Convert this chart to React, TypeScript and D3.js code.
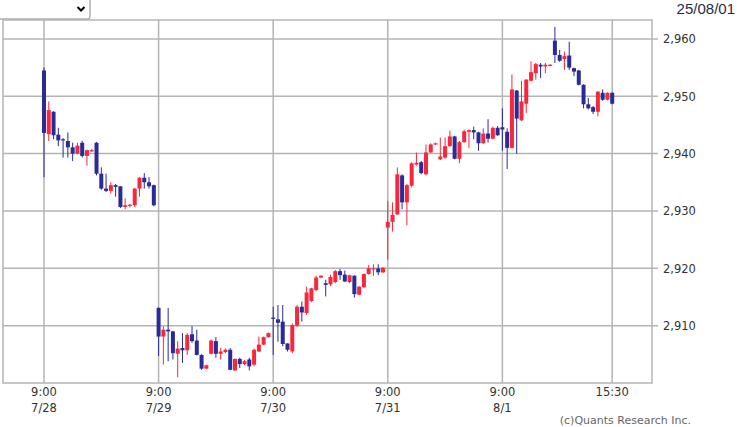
import React, { useEffect } from "react";
import * as d3 from "d3";

// one tuple per bar: [open, high, low, close]
type Bar = [number, number, number, number];

const days = ["7/28", "7/29", "7/30", "7/31", "8/1"];
const timeLabels = ["9:00", "9:00", "9:00", "9:00", "9:00", "15:30"];
const dateLabels = ["7/28", "7/29", "7/30", "7/31", "8/1", ""];
const yTicks = [2910, 2920, 2930, 2940, 2950, 2960];

const bars0728: Bar[] = [
  [2954.5, 2955.0, 2935.9, 2943.6], [2943.4, 2949.1, 2942.2, 2947.6], [2947.3, 2947.4, 2942.5, 2943.2],
  [2943.3, 2944.5, 2941.3, 2942.3], [2942.5, 2942.7, 2939.3, 2942.3], [2942.2, 2943.7, 2939.3, 2941.1],
  [2941.1, 2941.9, 2938.7, 2940.0], [2940.0, 2941.9, 2939.9, 2941.4], [2941.9, 2942.2, 2939.3, 2939.6],
  [2939.6, 2940.7, 2937.9, 2940.6], [2940.4, 2940.8, 2940.3, 2940.6], [2941.9, 2942.0, 2936.2, 2936.5],
  [2936.5, 2937.6, 2933.7, 2933.9], [2933.9, 2936.5, 2933.3, 2933.5], [2933.5, 2935.0, 2933.0, 2934.5],
  [2934.5, 2934.7, 2932.5, 2934.2], [2934.3, 2934.3, 2930.5, 2930.7], [2930.7, 2932.2, 2930.3, 2931.0],
  [2930.9, 2931.2, 2930.6, 2931.1], [2931.0, 2934.0, 2930.7, 2933.9], [2933.9, 2935.9, 2932.5, 2935.8],
  [2935.8, 2936.6, 2933.9, 2935.0], [2935.0, 2935.9, 2933.9, 2934.3], [2934.5, 2934.6, 2930.8, 2931.0],
];

const bars0729: Bar[] = [
  [2913.1, 2913.2, 2904.7, 2908.1], [2908.1, 2909.9, 2903.2, 2909.3], [2909.3, 2913.1, 2903.8, 2909.0],
  [2909.0, 2909.1, 2904.1, 2905.2], [2905.1, 2907.3, 2901.0, 2906.0], [2906.1, 2908.7, 2903.5, 2905.7],
  [2905.7, 2908.7, 2904.9, 2908.4], [2908.5, 2909.9, 2907.0, 2907.3], [2907.4, 2909.3, 2904.8, 2904.9],
  [2904.9, 2905.0, 2902.3, 2902.5], [2902.5, 2903.2, 2902.4, 2903.1], [2905.1, 2907.6, 2905.0, 2907.4],
  [2907.3, 2908.0, 2904.4, 2905.1], [2905.1, 2906.1, 2904.1, 2905.5], [2905.4, 2906.0, 2905.2, 2905.8],
  [2905.8, 2906.1, 2902.2, 2902.3], [2902.2, 2904.3, 2902.1, 2904.2], [2904.2, 2904.4, 2902.6, 2903.3],
  [2903.3, 2904.0, 2903.1, 2903.8], [2904.1, 2904.4, 2902.2, 2902.9], [2903.2, 2906.0, 2902.9, 2905.8],
  [2905.5, 2908.1, 2905.4, 2906.7], [2906.7, 2908.1, 2906.6, 2908.0], [2908.0, 2908.8, 2907.9, 2908.7],
];

const bars0730: Bar[] = [
  [2911.4, 2913.3, 2904.9, 2911.2], [2911.1, 2913.6, 2907.2, 2910.5], [2910.7, 2913.6, 2906.4, 2906.8],
  [2906.9, 2906.9, 2905.5, 2905.8], [2905.5, 2910.4, 2905.2, 2910.1], [2910.0, 2913.6, 2909.8, 2913.3],
  [2913.3, 2914.2, 2910.7, 2912.3], [2912.2, 2916.8, 2911.9, 2915.8], [2914.3, 2916.6, 2914.1, 2916.5],
  [2916.2, 2918.7, 2916.0, 2918.4], [2918.4, 2918.8, 2918.3, 2918.7], [2917.4, 2918.0, 2915.1, 2917.1],
  [2917.2, 2918.9, 2916.9, 2918.5], [2917.6, 2919.7, 2917.4, 2919.5], [2919.5, 2919.9, 2918.0, 2918.8],
  [2918.9, 2919.6, 2917.6, 2917.7], [2917.6, 2918.9, 2917.4, 2918.8], [2918.7, 2918.8, 2914.9, 2915.5],
  [2915.4, 2916.9, 2915.3, 2916.8], [2916.7, 2919.1, 2916.6, 2919.0], [2919.0, 2920.6, 2918.9, 2920.0],
  [2919.8, 2920.7, 2918.7, 2920.0], [2920.0, 2920.7, 2918.8, 2919.3], [2919.3, 2920.2, 2919.2, 2920.1],
];

const bars0731: Bar[] = [
  [2927.1, 2931.7, 2921.5, 2928.1], [2928.1, 2931.5, 2926.4, 2929.3], [2929.4, 2937.6, 2929.3, 2936.4],
  [2936.2, 2936.4, 2930.3, 2931.5], [2931.5, 2934.7, 2927.5, 2934.5], [2934.4, 2938.5, 2934.1, 2938.3],
  [2938.1, 2940.2, 2937.9, 2938.4], [2938.5, 2938.7, 2936.4, 2936.6], [2936.4, 2941.6, 2936.2, 2940.2],
  [2940.2, 2941.8, 2940.1, 2941.6], [2941.6, 2941.9, 2941.5, 2941.8], [2939.0, 2942.8, 2938.9, 2939.5],
  [2939.3, 2942.8, 2939.1, 2941.3], [2941.3, 2944.0, 2941.2, 2943.0], [2943.0, 2943.1, 2939.0, 2939.1],
  [2939.1, 2942.2, 2938.3, 2942.0], [2942.0, 2944.2, 2941.9, 2943.9], [2943.8, 2944.2, 2941.0, 2944.1],
  [2944.1, 2944.7, 2942.5, 2943.7], [2943.7, 2943.8, 2940.5, 2941.8], [2941.8, 2944.4, 2941.7, 2943.5],
  [2943.5, 2946.0, 2941.9, 2942.6], [2942.6, 2944.7, 2942.5, 2944.5], [2944.5, 2944.8, 2943.1, 2943.2],
];

const bars0801: Bar[] = [
  [2944.6, 2947.9, 2940.5, 2944.2], [2943.8, 2944.4, 2937.3, 2941.0], [2941.0, 2953.8, 2940.9, 2951.2],
  [2951.0, 2951.1, 2940.0, 2946.1], [2945.8, 2952.7, 2945.7, 2949.1], [2948.7, 2953.0, 2947.1, 2952.9],
  [2952.7, 2956.1, 2952.6, 2954.2], [2954.0, 2955.8, 2952.9, 2955.6], [2955.5, 2955.8, 2953.2, 2955.2],
  [2955.2, 2955.8, 2954.0, 2955.5], [2955.3, 2955.6, 2955.2, 2955.5], [2959.7, 2962.1, 2955.8, 2957.2],
  [2957.2, 2958.1, 2956.0, 2956.2], [2956.5, 2957.8, 2954.6, 2957.0], [2957.1, 2959.5, 2954.6, 2955.0],
  [2954.9, 2955.0, 2953.5, 2954.3], [2954.5, 2954.6, 2951.9, 2952.0], [2952.0, 2952.1, 2947.9, 2948.6],
  [2948.6, 2949.7, 2947.7, 2947.9], [2948.1, 2948.3, 2946.9, 2947.3], [2947.3, 2950.9, 2946.5, 2950.8],
  [2950.6, 2951.2, 2949.2, 2949.4], [2949.4, 2950.7, 2949.3, 2950.6], [2950.6, 2950.7, 2948.6, 2948.7],
];

const allBars: Bar[] = [...bars0728, ...bars0729, ...bars0730, ...bars0731, ...bars0801];
const perDay = bars0728.length;

const W = 737;
const H = 427;
const left = 3, right = 652, top = 20, bottom = 383;

const UP = "#f8283c";
const DOWN = "#2a2a98";
const GRID = "#b4b4b4";
const FONT = "'DejaVu Sans', sans-serif";

export default function App() {
  useEffect(() => {
    document.body.style.margin = "0";
  }, []);

  const x = d3.scaleLinear().domain([0, allBars.length - 1]).range([44, 612.2]);
  const y = d3.scaleLinear().domain([2900, 2963.3]).range([bottom, top]);

  // vertical grid: each day's 9:00 plus the final 15:30
  const xTicks = days.map((_, i) => i * perDay).concat([allBars.length - 1]);

  return (
    <svg width={W} height={H} style={{ position: "absolute", left: 0, top: 0, background: "#fff" }}>
      {/* period selector */}
      <rect x={-2} y={-2} width={92} height={21} rx={2} fill="#fff" stroke="#858585" />
      <path d="M77.5,7 L81,10.5 L84.5,7" fill="none" stroke="#000" strokeWidth={2} />

      <text x={735} y={14} textAnchor="end" fontFamily="'Liberation Sans', Arial, sans-serif" fontSize={15} fill="#1f2d4a">
        25/08/01
      </text>

      {/* grid */}
      {yTicks.map((t) => (
        <line key={"h" + t} x1={left} x2={right + 6} y1={y(t)} y2={y(t)} stroke={GRID} strokeWidth={1.5} />
      ))}
      {xTicks.map((t, i) => (
        <line key={"v" + i} x1={x(t)} x2={x(t)} y1={top} y2={bottom} stroke={GRID} strokeWidth={1.5} />
      ))}
      <rect x={left} y={top} width={right - left} height={bottom - top} fill="none" stroke={GRID} strokeWidth={1.5} />

      {/* candles */}
      {allBars.map(([o, h, l, c], i) => {
        const cx = x(i);
        const col = c >= o ? UP : DOWN;
        const yTop = y(Math.max(o, c));
        const bh = Math.max(1.2, y(Math.min(o, c)) - yTop);
        return (
          <g key={i}>
            <line x1={cx} x2={cx} y1={y(h)} y2={y(l)} stroke={col} strokeWidth={1} />
            <rect x={cx - 2} y={yTop} width={4} height={bh} fill={col} />
          </g>
        );
      })}

      {/* y axis labels */}
      {yTicks.map((t) => (
        <text key={"yl" + t} x={663} y={y(t) + 4.5} fontFamily={FONT} fontSize={11.5} fill="#333">
          {d3.format(",")(t)}
        </text>
      ))}

      {/* x axis labels */}
      {xTicks.map((t, i) => (
        <g key={"xl" + i}>
          <text x={x(t)} y={396} textAnchor="middle" fontFamily={FONT} fontSize={11.5} fill="#333">
            {timeLabels[i]}
          </text>
          <text x={x(t)} y={412} textAnchor="middle" fontFamily={FONT} fontSize={11.5} fill="#333">
            {dateLabels[i]}
          </text>
        </g>
      ))}

      <text x={691} y={424} textAnchor="end" fontFamily={FONT} fontSize={11} fill="#666">
        (c)Quants Research Inc.
      </text>
    </svg>
  );
}
